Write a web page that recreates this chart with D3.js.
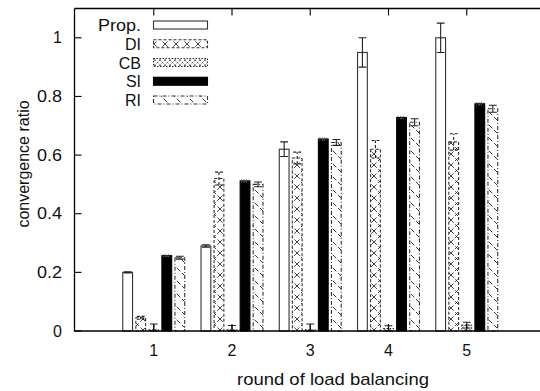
<!DOCTYPE html>
<html>
<head>
<meta charset="utf-8">
<script src="https://cdn.jsdelivr.net/npm/d3@7"></script>
<style>
  html, body { margin: 0; padding: 0; background: #fff; }
  svg { display: block; font-family: "Liberation Sans", Arial, Helvetica, sans-serif; }
</style>
</head>
<body>
<svg id="chart" width="540" height="391"></svg>
<script>
// Rounds of load balancing (x categories)
const rounds = ["1", "2", "3", "4", "5"];
const seriesNames = ["Prop.", "DI", "CB", "SI", "RI"];

// Convergence ratio per series (mean) and error-bar half-widths
const propValues = [0.20, 0.29, 0.62, 0.95, 1.00];
const propErrors = [0.002, 0.004, 0.025, 0.05, 0.05];
const diValues   = [0.045, 0.52, 0.59, 0.62, 0.645];
const diErrors   = [0.005, 0.022, 0.02, 0.03, 0.028];
const cbValues   = [0.004, 0.004, 0.004, 0.008, 0.02];
const cbErrors   = [0.02, 0.015, 0.02, 0.01, 0.01];
const siValues   = [0.257, 0.512, 0.655, 0.728, 0.775];
const siErrors   = [0.003, 0.004, 0.004, 0.004, 0.004];
const riValues   = [0.25, 0.50, 0.643, 0.712, 0.758];
const riErrors   = [0.005, 0.008, 0.01, 0.012, 0.012];

const yTicks = [0, 0.2, 0.4, 0.6, 0.8, 1];

const series = [
  { name: seriesNames[0], values: propValues, errors: propErrors, fill: "#fff",      dash: null,      errDash: null },
  { name: seriesNames[1], values: diValues,   errors: diErrors,   fill: "url(#pDI)", dash: "3,2",     errDash: "3,2" },
  { name: seriesNames[2], values: cbValues,   errors: cbErrors,   fill: "url(#pCB)", dash: "1.5,1.5", errDash: null },
  { name: seriesNames[3], values: siValues,   errors: siErrors,   fill: "#000",      dash: null,      errDash: "1,1.5" },
  { name: seriesNames[4], values: riValues,   errors: riErrors,   fill: "url(#pRI)", dash: "4,2,1,2", errDash: null }
];

const svg = d3.select("#chart");
const plotLeft = 74.5, plotTop = 8.5, plotBottom = 331;

// Category positions: index 0..4, axis spans -1..6
const x = d3.scaleLinear().domain([-1, 6]).range([75.5, 75.5 + 7 * 78.25]);
const y = d3.scaleLinear().domain([0, 1.1]).range([plotBottom, plotTop]);

const slot = 1 / 6;            // per-bar slot within a category
const barW = x(0.75 * slot) - x(0);
const strokeOf = i => (i === 3 ? "#000" : "#333");

// Fill patterns
const defs = svg.append("defs");
const pDI = defs.append("pattern").attr("id", "pDI").attr("patternUnits", "userSpaceOnUse")
  .attr("width", 11).attr("height", 11);
pDI.append("rect").attr("width", 11).attr("height", 11).attr("fill", "#fff");
pDI.append("path").attr("d", "M0,0L11,11M11,0L0,11").attr("stroke", "#222").attr("stroke-width", 0.85)
  .attr("stroke-dasharray", "4,2").attr("fill", "none");

const pCB = defs.append("pattern").attr("id", "pCB").attr("patternUnits", "userSpaceOnUse")
  .attr("width", 5).attr("height", 5);
pCB.append("rect").attr("width", 5).attr("height", 5).attr("fill", "#fff");
pCB.append("path").attr("d", "M0,0L5,5M5,0L0,5").attr("stroke", "#333").attr("stroke-width", 0.7)
  .attr("stroke-dasharray", "1.5,1").attr("fill", "none");

const pRI = defs.append("pattern").attr("id", "pRI").attr("patternUnits", "userSpaceOnUse")
  .attr("width", 13).attr("height", 13);
pRI.append("rect").attr("width", 13).attr("height", 13).attr("fill", "#fff");
pRI.append("path").attr("d", "M0,0L13,13M-6.5,6.5L6.5,19.5M6.5,-6.5L19.5,6.5").attr("stroke", "#222")
  .attr("stroke-width", 0.9).attr("stroke-dasharray", "5,2.5,1,2.5").attr("fill", "none");

// Bars
series.forEach((s, si) => {
  const off = (si - 2) * slot;
  const g = svg.append("g");
  g.selectAll("rect").data(s.values).join("rect")
    .attr("x", (d, i) => x(i + off) - barW / 2)
    .attr("y", d => y(d))
    .attr("width", barW)
    .attr("height", d => y(0) - y(d))
    .attr("fill", s.fill)
    .attr("stroke", strokeOf(si))
    .attr("stroke-width", 1.1)
    .attr("stroke-dasharray", s.dash);

  // Error bars
  const capW = barW * 0.8;
  const eg = svg.append("g")
    .attr("stroke", si === 3 ? "#777" : "#222")
    .attr("stroke-width", 1.1)
    .attr("fill", "none")
    .attr("stroke-dasharray", s.errDash);
  s.values.forEach((v, i) => {
    const cx = x(i + off);
    const hi = y(v + s.errors[i]);
    const lo = y(Math.max(0, v - s.errors[i]));
    eg.append("path").attr("d",
      `M${cx},${lo}V${hi}M${cx - capW / 2},${hi}H${cx + capW / 2}M${cx - capW / 2},${lo}H${cx + capW / 2}`);
  });
});

// Frame (left, top, bottom)
svg.append("path")
  .attr("d", `M${plotLeft},${plotTop}H545M${plotLeft},${plotTop}V${plotBottom}H545`)
  .attr("stroke", "#000").attr("stroke-width", 1.3).attr("fill", "none");

// Y ticks (inward) and labels
const yg = svg.append("g");
yTicks.forEach(t => {
  yg.append("line").attr("x1", plotLeft).attr("x2", plotLeft + 7)
    .attr("y1", y(t)).attr("y2", y(t)).attr("stroke", "#000").attr("stroke-width", 1.1);
  const label = d3.format("~g")(t);
  const tl = yg.append("text").attr("x", 62).attr("y", y(t) + 5.5)
    .attr("text-anchor", "end").attr("font-size", 16).attr("fill", "#111")
    .text(label);
  if (label.length > 1) tl.attr("textLength", 25).attr("lengthAdjust", "spacingAndGlyphs");
});

// X ticks (inward on top and bottom) and labels
const xg = svg.append("g");
rounds.forEach((r, i) => {
  xg.append("line").attr("x1", x(i)).attr("x2", x(i)).attr("y1", plotTop).attr("y2", plotTop + 7)
    .attr("stroke", "#000").attr("stroke-width", 1.1);
  xg.append("line").attr("x1", x(i)).attr("x2", x(i)).attr("y1", plotBottom).attr("y2", plotBottom - 7)
    .attr("stroke", "#000").attr("stroke-width", 1.1);
  xg.append("text").attr("x", x(i)).attr("y", 356)
    .attr("text-anchor", "middle").attr("font-size", 16).attr("fill", "#111").text(r);
});

// Axis titles
svg.append("text").attr("x", 333).attr("y", 385).attr("text-anchor", "middle")
  .attr("font-size", 17).attr("fill", "#111")
  .attr("textLength", 192).attr("lengthAdjust", "spacingAndGlyphs")
  .text("round of load balancing");
svg.append("text").attr("transform", "translate(29,164) rotate(-90)").attr("text-anchor", "middle")
  .attr("font-size", 16).attr("fill", "#111").text("convergence ratio");

// Legend
const lg = svg.append("g");
series.forEach((s, i) => {
  const cy = 25 + i * 18.75;
  const t = lg.append("text").attr("x", 141).attr("y", cy + 6).attr("text-anchor", "end")
    .attr("font-size", 16).attr("fill", "#111").text(s.name);
  if (i === 0) t.attr("textLength", 43).attr("lengthAdjust", "spacingAndGlyphs");
  lg.append("rect").attr("x", 153.5).attr("y", cy - 4).attr("width", 54).attr("height", 8)
    .attr("fill", s.fill).attr("stroke", strokeOf(i)).attr("stroke-width", 1.1)
    .attr("stroke-dasharray", s.dash);
});
</script>
</body>
</html>
